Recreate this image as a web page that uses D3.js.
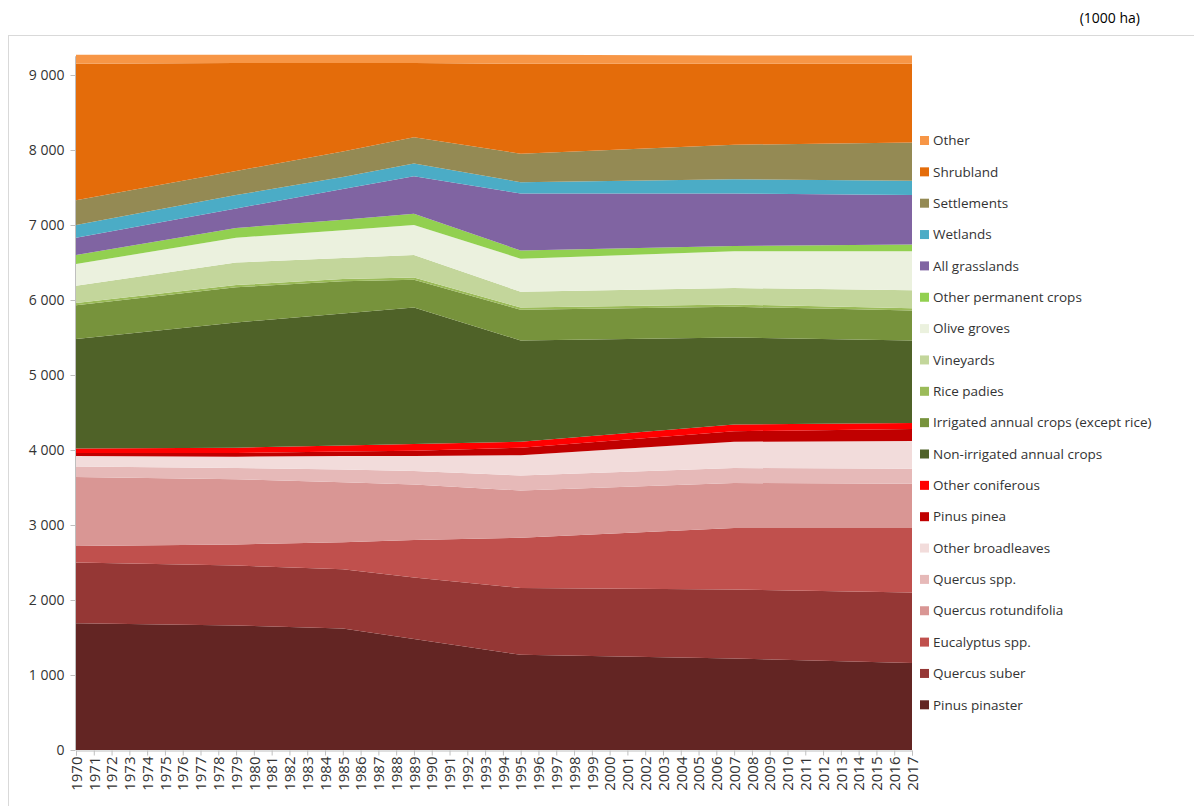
<!DOCTYPE html>
<html>
<head>
<meta charset="utf-8">
<script src="https://cdn.jsdelivr.net/npm/d3@7"></script>
<style>
    body { margin: 0; background: #fff; }
    svg text { font-family: "Open Sans", "Noto Sans", sans-serif; fill: #333; }
</style>
</head>
<body>
<div id="chart"></div>
<script>
// years where the source data has values (straight lines between them)
const years = [1970, 1979, 1985, 1989, 1995, 2007, 2017];

// categories, bottom of the stack first
const categories = [
    'Pinus pinaster', 'Quercus suber', 'Eucalyptus spp.', 'Quercus rotundifolia',
    'Quercus spp.', 'Other broadleaves', 'Pinus pinea', 'Other coniferous',
    'Non-irrigated annual crops', 'Irrigated annual crops (except rice)', 'Rice padies',
    'Vineyards', 'Olive groves', 'Other permanent crops', 'All grasslands',
    'Wetlands', 'Settlements', 'Shrubland', 'Other'
];

const colors = [
    '#632523', '#953735', '#c0504d', '#d99694',
    '#e6b9b8', '#f2dcdb', '#c00000', '#ff0000',
    '#4f6228', '#77933c', '#9bbb59',
    '#c3d69b', '#ebf1de', '#92d050', '#8064a2',
    '#4bacc6', '#948a54', '#e46c0a', '#f79646'
];

// 1000 ha, one value per year in `years`
const pinusPinaster   = [1690, 1660, 1620, 1480, 1270, 1220, 1160];
const quercusSuber    = [810, 800, 790, 820, 890, 920, 940];
const eucalyptus      = [220, 280, 360, 500, 670, 820, 860];
const quercusRot      = [920, 870, 800, 740, 630, 600, 590];
const quercusSpp      = [140, 150, 170, 180, 200, 200, 200];
const otherBroad      = [140, 150, 180, 200, 270, 350, 370];
const pinusPinea      = [40, 50, 60, 70, 100, 140, 160];
const otherConif      = [60, 70, 80, 90, 80, 90, 80];
const nonIrrigated    = [1460, 1670, 1760, 1820, 1350, 1160, 1100];
const irrigated       = [450, 470, 430, 370, 410, 410, 400];
const ricePadies      = [30, 30, 30, 30, 30, 30, 30];
const vineyards       = [230, 300, 280, 300, 210, 220, 240];
const oliveGroves     = [290, 330, 370, 400, 440, 490, 520];
const otherPermanent  = [120, 130, 140, 150, 110, 70, 90];
const grasslands      = [230, 260, 410, 500, 760, 700, 660];
const wetlands        = [170, 180, 160, 170, 150, 190, 190];
const settlements     = [330, 320, 340, 350, 380, 460, 510];
const shrubland       = [1820, 1440, 1180, 990, 1200, 1080, 1050];
const other           = [120, 110, 110, 110, 120, 110, 110];

const series = [
    pinusPinaster, quercusSuber, eucalyptus, quercusRot, quercusSpp, otherBroad,
    pinusPinea, otherConif, nonIrrigated, irrigated, ricePadies, vineyards,
    oliveGroves, otherPermanent, grasslands, wetlands, settlements, shrubland, other
];

const yTicks = [0, 1000, 2000, 3000, 4000, 5000, 6000, 7000, 8000, 9000];

const width = 1194, height = 806;

const rows = years.map((yr, i) => {
    const row = { year: yr };
    categories.forEach((c, k) => { row[c] = series[k][i]; });
    return row;
});

const svg = d3.select('#chart').append('svg')
    .attr('width', width)
    .attr('height', height);

// chart area frame
svg.append('line').attr('x1', 8).attr('x2', width).attr('y1', 35.5).attr('y2', 35.5)
    .attr('stroke', '#d9d9d9');
svg.append('line').attr('x1', 8.5).attr('x2', 8.5).attr('y1', 35).attr('y2', height)
    .attr('stroke', '#d9d9d9');

const x = d3.scaleLinear().domain([1970, 2017]).range([76, 912]);
const y = d3.scaleLinear().domain([0, 9000]).range([750, 75]);

const stack = d3.stack().keys(categories);
const layers = stack(rows);

const area = d3.area()
    .x(d => x(d.data.year))
    .y0(d => y(d[0]))
    .y1(d => y(d[1]));

svg.append('g')
    .selectAll('path')
    .data(layers)
    .join('path')
    .attr('fill', (d, i) => colors[i])
    .attr('d', area);

// y axis
const fmt = v => d3.format(',')(v).replace(/,/g, ' ');
const yAxis = svg.append('g')
    .attr('transform', 'translate(75.5,0)')
    .call(d3.axisLeft(y).tickValues(yTicks).tickFormat(fmt).tickSize(5).tickPadding(6));
yAxis.select('.domain').attr('stroke', '#bfbfbf').attr('d', `M0,${y(0)}V${y(9250)}`);
yAxis.selectAll('.tick line').attr('stroke', '#bfbfbf');
yAxis.selectAll('.tick text').style('font-size', '14px').attr('fill', '#333');

// x axis, one tick per year
const allYears = d3.range(1970, 2018);
const xAxis = svg.append('g')
    .attr('transform', `translate(0,${y(0) + 0.5})`)
    .call(d3.axisBottom(x).tickValues(allYears).tickFormat(d3.format('d')).tickSize(5));
xAxis.select('.domain').attr('stroke', '#bfbfbf');
xAxis.selectAll('.tick line').attr('stroke', '#bfbfbf');
xAxis.selectAll('.tick text')
    .style('font-size', '15px')
    .attr('fill', '#333')
    .attr('text-anchor', 'end')
    .attr('dy', '0.35em')
    .attr('transform', 'translate(0,6) rotate(-90)')
    .attr('x', 0)
    .attr('y', 0);

// legend, top entry is the top of the stack
const legendItems = categories.map((c, i) => ({ name: c, color: colors[i] })).reverse();
const legend = svg.append('g').attr('transform', 'translate(920,140)');
const item = legend.selectAll('g')
    .data(legendItems)
    .join('g')
    .attr('transform', (d, i) => `translate(0,${i * 31.35})`);
item.append('rect')
    .attr('x', 0).attr('y', -4)
    .attr('width', 9).attr('height', 9)
    .attr('fill', d => d.color);
item.append('text')
    .attr('x', 13).attr('y', 0.5)
    .attr('dy', '0.35em')
    .style('font-size', '13.5px')
    .text(d => d.name);

// unit label
svg.append('text')
    .attr('x', 1140).attr('y', 23)
    .attr('text-anchor', 'end')
    .style('font-size', '14px')
    .style('fill', '#000')
    .text('(1000 ha)');
</script>
</body>
</html>
